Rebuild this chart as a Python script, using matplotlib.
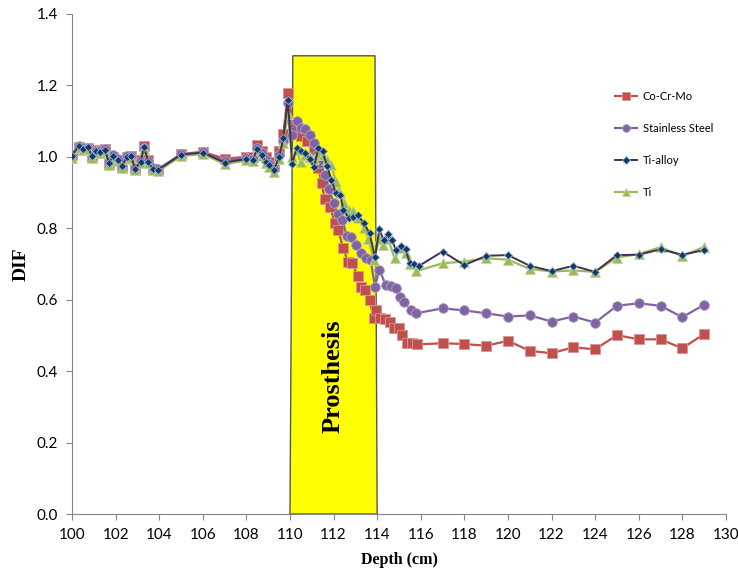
import matplotlib.pyplot as plt
from matplotlib.patches import Polygon

# shared depths before the prosthesis
x_pre = [100.0, 100.3, 100.5, 100.75, 100.9, 101.1, 101.3, 101.5, 101.7, 101.9,
         102.1, 102.3, 102.5, 102.7, 102.9, 103.15, 103.3, 103.5, 103.7, 103.95,
         105.0, 106.0, 107.0, 108.0, 108.3, 108.5, 108.7, 108.9, 109.05, 109.25,
         109.5, 109.7, 109.9]
x_tail = [117, 118, 119, 120, 121, 122, 123, 124, 125, 126, 127, 128, 129]

# Co-Cr-Mo
x_cocr = x_pre + [110.2, 110.5, 110.8, 111.1, 111.3, 111.45, 111.6, 111.85, 112.05, 112.2,
                  112.45, 112.65, 112.85, 113.1, 113.25, 113.45, 113.65, 113.85, 113.95, 114.15,
                  114.35, 114.6, 114.75, 115.0, 115.15, 115.35, 115.6, 115.85] + x_tail
y_cocr = [1.005, 1.028, 1.020, 1.025, 1.000, 1.018, 1.012, 1.022, 0.980, 1.000,
          0.990, 0.972, 1.000, 1.003, 0.965, 0.990, 1.030, 0.990, 0.965, 0.962,
          1.008, 1.014, 0.995, 1.000, 1.000, 1.032, 1.015, 1.000, 0.985, 0.975,
          1.015, 1.065, 1.180,
          1.070, 1.057, 1.045, 1.020, 0.970, 0.926, 0.881, 0.859, 0.816, 0.796,
          0.744, 0.707, 0.704, 0.667, 0.637, 0.627, 0.599, 0.548, 0.571, 0.548,
          0.545, 0.539, 0.520, 0.520, 0.501, 0.480, 0.478, 0.475,
          0.478, 0.476, 0.471, 0.485, 0.457, 0.450, 0.467, 0.461, 0.501, 0.489, 0.489, 0.464, 0.504]

# Stainless Steel
x_ss = x_pre + [110.1, 110.3, 110.5, 110.7, 110.9, 111.1, 111.25, 111.4, 111.6, 111.8,
                112.0, 112.2, 112.4, 112.6, 112.8, 113.05, 113.28, 113.5, 113.7, 113.9,
                114.1, 114.4, 114.65, 114.85, 115.05, 115.25, 115.55, 115.8] + x_tail
y_ss = [1.006, 1.030, 1.024, 1.026, 1.005, 1.017, 1.015, 1.021, 0.985, 1.004,
        0.993, 0.976, 1.001, 1.002, 0.968, 0.988, 1.026, 0.988, 0.968, 0.966,
        1.007, 1.013, 0.988, 0.997, 0.995, 1.025, 1.010, 0.990, 0.980, 0.966,
        1.005, 1.045, 1.150,
        1.060, 1.099, 1.080, 1.077, 1.062, 1.040, 1.006, 0.982, 0.950, 0.910,
        0.870, 0.840, 0.824, 0.779, 0.777, 0.753, 0.732, 0.716, 0.711, 0.637,
        0.683, 0.641, 0.639, 0.632, 0.609, 0.595, 0.571, 0.562,
        0.576, 0.570, 0.562, 0.553, 0.556, 0.539, 0.553, 0.536, 0.583, 0.590, 0.583, 0.551, 0.586]

# Ti-alloy
x_tia = x_pre + [110.1, 110.3, 110.5, 110.7, 110.9, 111.1, 111.3, 111.5, 111.7, 111.9,
                 112.1, 112.3, 112.45, 112.7, 112.9, 113.1, 113.4, 113.65, 113.9, 114.1,
                 114.3, 114.5, 114.7, 114.85, 115.1, 115.3, 115.5, 115.7, 115.9] + x_tail
y_tia = [1.003, 1.031, 1.022, 1.027, 1.003, 1.016, 1.014, 1.020, 0.984, 1.003,
         0.992, 0.975, 0.999, 1.001, 0.967, 0.986, 1.027, 0.986, 0.967, 0.964,
         1.006, 1.012, 0.984, 0.994, 0.992, 1.023, 1.006, 0.986, 0.977, 0.962,
         0.999, 1.052, 1.160,
         0.980, 1.024, 1.015, 1.010, 0.994, 0.971, 1.024, 1.015, 0.975, 0.936,
         0.900, 0.894, 0.852, 0.828, 0.831, 0.838, 0.814, 0.786, 0.720, 0.797,
         0.766, 0.783, 0.768, 0.738, 0.750, 0.741, 0.703, 0.700, 0.694,
         0.735, 0.697, 0.723, 0.725, 0.695, 0.680, 0.695, 0.678, 0.725, 0.726, 0.741, 0.726, 0.739]

# Ti
x_ti = x_pre + [110.1, 110.3, 110.5, 110.7, 110.9, 111.1, 111.3, 111.5, 111.7, 111.9,
                112.1, 112.3, 112.5, 112.7, 112.9, 113.1, 113.4, 113.6, 113.85, 114.1,
                114.25, 114.5, 114.8, 115.1, 115.3, 115.5, 115.8] + x_tail
y_ti = [0.998, 1.025, 1.018, 1.022, 0.998, 1.012, 1.010, 1.015, 0.978, 0.998,
        0.988, 0.970, 0.995, 0.997, 0.962, 0.982, 1.022, 0.982, 0.962, 0.960,
        1.002, 1.008, 0.980, 0.990, 0.988, 1.018, 1.002, 0.982, 0.972, 0.957,
        0.993, 1.040, 1.120,
        1.000, 1.018, 0.985, 1.005, 1.000, 0.995, 1.010, 1.005, 0.990, 0.978,
        0.930, 0.900, 0.870, 0.850, 0.847, 0.830, 0.800, 0.770, 0.711, 0.770,
        0.754, 0.770, 0.716, 0.745, 0.730, 0.700, 0.680,
        0.702, 0.707, 0.716, 0.712, 0.686, 0.679, 0.682, 0.678, 0.718, 0.728, 0.747, 0.722, 0.748]

fig = plt.figure(figsize=(7.38, 5.71), dpi=100)
ax = fig.add_axes([0.0976, 0.0998, 0.886, 0.8757])

# prosthesis block (slightly skewed shape as in the original)
prost = Polygon([(110.0, 0.0), (110.13, 1.283), (113.9, 1.283), (114.0, 0.0)],
                closed=True, facecolor='#FFFF00', edgecolor='#555555', lw=1.0, zorder=1)
ax.add_patch(prost)
ax.text(111.97, 0.385, 'Prosthesis', rotation=90, ha='center', va='center',
        fontsize=19, fontweight='bold', family='Liberation Serif', zorder=2)

ax.plot(x_cocr, y_cocr, color='#C0504D', lw=1.6, marker='s', ms=6.5,
        mfc='#C0504D', mec='#D99694', mew=0.6, label='Co-Cr-Mo', zorder=3)
ax.plot(x_ss, y_ss, color='#8064A2', lw=1.6, marker='o', ms=7,
        mfc='#8064A2', mec='#B3A2C7', mew=0.6, label='Stainless Steel', zorder=4)
ax.plot(x_ti, y_ti, color='#9BBB59', lw=1.6, marker='^', ms=6.5,
        mfc='#9BBB59', mec='#C3D69B', mew=0.6, label='Ti', zorder=5)
ax.plot(x_tia, y_tia, color='#403152', lw=1.4, marker='D', ms=4.5,
        mfc='#17375E', mec='#8EB4E3', mew=0.6, label='Ti-alloy', zorder=6)

ax.set_xlim(100, 130)
ax.set_ylim(0, 1.4)
ax.set_xticks(range(100, 131, 2))
ax.set_yticks([0.0, 0.2, 0.4, 0.6, 0.8, 1.0, 1.2, 1.4])
ax.set_yticklabels(['0.0', '0.2', '0.4', '0.6', '0.8', '1.0', '1.2', '1.4'])

for s in ['top', 'right']:
    ax.spines[s].set_visible(False)
for s in ['left', 'bottom']:
    ax.spines[s].set_color('#868686')
ax.tick_params(axis='both', direction='out', length=4, color='#868686',
               labelsize=11, pad=6)
for lab in ax.get_xticklabels() + ax.get_yticklabels():
    lab.set_family('Lato')

ax.set_xlabel('Depth (cm)', fontsize=11.5, fontweight='bold', family='Liberation Serif', labelpad=7)
ax.set_ylabel('DIF', fontsize=14, fontweight='bold', family='Liberation Serif', labelpad=5)

h, l = ax.get_legend_handles_labels()
order = [0, 1, 3, 2]
ax.legend([h[i] for i in order], [l[i] for i in order], loc='upper left',
          bbox_to_anchor=(0.815, 0.866), frameon=False,
          labelspacing=1.9, handlelength=2.0, handletextpad=0.5,
          prop={'family': 'Lato', 'size': 8}, markerscale=0.8)

fig.savefig('out.png', dpi=100)
